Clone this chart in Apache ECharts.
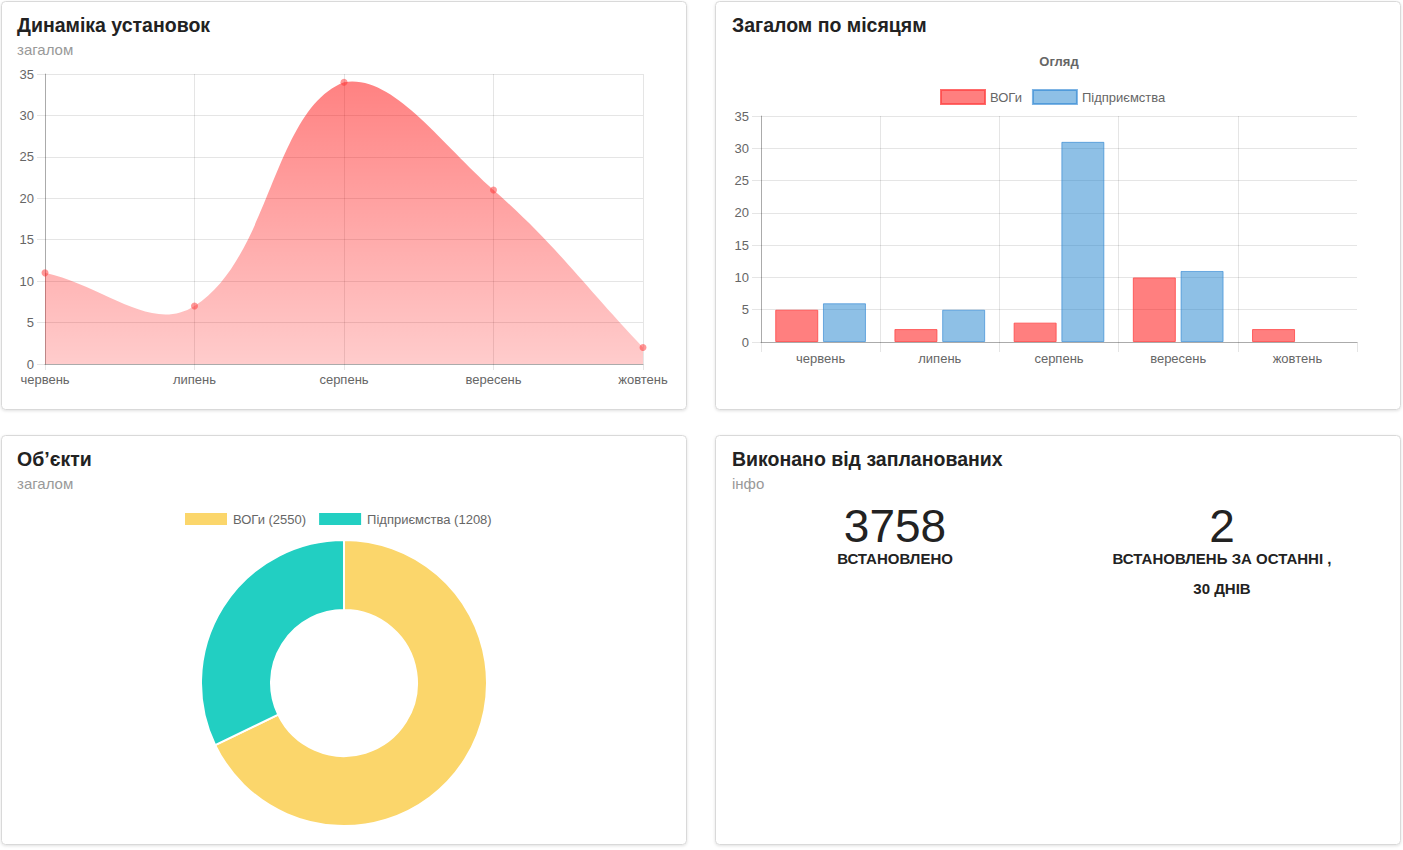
<!DOCTYPE html>
<html>
<head>
<meta charset="utf-8">
<script src="https://cdn.jsdelivr.net/npm/echarts@6/dist/echarts.min.js"></script>
<style>
html,body{margin:0;padding:0;background:#fff;}
#c{width:1403px;height:850px;}
</style>
</head>
<body>
<div id="c"></div>
<script>
// ---- data ----
const months = ['червень', 'липень', 'серпень', 'вересень', 'жовтень'];
const installs = [11, 7, 34, 21, 2];
const vogValues = [5, 2, 3, 10, 2];
const enterpriseValues = [6, 5, 31, 11, 0];
const seriesNames = ['ВОГи', 'Підприємства'];
const objectNames = ['ВОГи (2550)', 'Підприємства (1208)'];
const objectValues = [2550, 1208];
const totalInstalled = '3758';
const recentInstalled = '2';
const yTicks = {min: 0, max: 35, interval: 5};

const FONT = '"Liberation Sans", Arial, Helvetica, sans-serif';
const chart = echarts.init(document.getElementById('c'), null, {renderer: 'svg'});

function panel(x, y, w, h) {
  return {type: 'rect', shape: {x: x, y: y, width: w, height: h, r: 4}, z: -10,
    style: {fill: '#fff', stroke: '#d9d9d9', lineWidth: 1, shadowBlur: 3, shadowColor: 'rgba(0,0,0,0.12)', shadowOffsetY: 1}};
}
function txt(x, y, s, size, weight, color, align) {
  return {type: 'text', x: x, y: y, z: 10, style: {text: s, fontFamily: FONT, fontSize: size, fontWeight: weight,
    fill: color, textAlign: align || 'left', textVerticalAlign: 'middle'}};
}

const gridLine = {show: true, lineStyle: {color: 'rgba(0,0,0,0.1)', width: 1}};
const axisLineStyle = {show: true, lineStyle: {color: 'rgba(0,0,0,0.25)', width: 1}};
const lbl = {color: '#666', fontSize: 13, fontFamily: FONT};

// Cardinal spline (tension 0.4) through the data points, control points capped to the plot area
function renderArea(params, api) {
  if (params.dataIndex !== 0) return null;
  const pts = installs.map((v, i) => api.coord([i, v]));
  const top = api.coord([0, yTicks.max])[1];
  const bottom = api.coord([0, yTicks.min])[1];
  const left = pts[0][0], right = pts[pts.length - 1][0];
  const t = 0.4;
  const cap = (p) => [Math.min(Math.max(p[0], left), right), Math.min(Math.max(p[1], top), bottom)];
  const cps = pts.map((cur, i) => {
    const prev = pts[i - 1] || cur, next = pts[i + 1] || cur;
    const d01 = Math.hypot(cur[0] - prev[0], cur[1] - prev[1]);
    const d12 = Math.hypot(next[0] - cur[0], next[1] - cur[1]);
    let s01 = d01 / (d01 + d12), s12 = d12 / (d01 + d12);
    if (isNaN(s01)) s01 = 0; if (isNaN(s12)) s12 = 0;
    const fa = t * s01, fb = t * s12;
    return {
      prev: cap([cur[0] - fa * (next[0] - prev[0]), cur[1] - fa * (next[1] - prev[1])]),
      next: cap([cur[0] + fb * (next[0] - prev[0]), cur[1] + fb * (next[1] - prev[1])])
    };
  });
  let d = 'M' + pts[0][0] + ' ' + pts[0][1];
  for (let i = 1; i < pts.length; i++) {
    const a = cps[i - 1].next, b = cps[i].prev;
    d += ' C' + a[0] + ' ' + a[1] + ' ' + b[0] + ' ' + b[1] + ' ' + pts[i][0] + ' ' + pts[i][1];
  }
  d += ' L' + right + ' ' + bottom + ' L' + left + ' ' + bottom + ' Z';
  return {
    type: 'path', shape: {pathData: d},
    style: {fill: new echarts.graphic.LinearGradient(0, top, 0, bottom, [
      {offset: 0, color: 'rgba(255,0,0,0.5)'}, {offset: 1, color: 'rgba(255,0,0,0.2)'}], true), stroke: null}
  };
}

const option = {
  animation: false,
  graphic: [
    panel(1.5, 1.5, 685, 408),
    panel(715.5, 1.5, 685, 408),
    panel(1.5, 435.5, 685, 409),
    panel(715.5, 435.5, 685, 409),
    txt(17, 25, 'Динаміка установок', 19.5, 'bold', '#222'),
    txt(17, 49, 'загалом', 15, 'normal', '#999'),
    txt(732, 25, 'Загалом по місяцям', 19.5, 'bold', '#222'),
    txt(1059, 61, 'Огляд', 13, 'bold', '#666', 'center'),
    txt(17, 459, 'Об’єкти', 19.5, 'bold', '#222'),
    txt(17, 483, 'загалом', 15, 'normal', '#999'),
    txt(732, 459, 'Виконано від запланованих', 19.5, 'bold', '#222'),
    txt(732, 483, 'інфо', 15, 'normal', '#999'),
    txt(895, 526, totalInstalled, 46, 'normal', '#222', 'center'),
    txt(895, 558, 'ВСТАНОВЛЕНО', 15, 'bold', '#222', 'center'),
    txt(1222, 526, recentInstalled, 46, 'normal', '#222', 'center'),
    txt(1222, 558, 'ВСТАНОВЛЕНЬ ЗА ОСТАННІ ,', 15, 'bold', '#222', 'center'),
    txt(1222, 588, '30 ДНІВ', 15, 'bold', '#222', 'center')
  ],
  legend: [
    {left: 940, top: 89, padding: 0, itemWidth: 44, itemHeight: 14, itemGap: 10, icon: 'rect',
     data: seriesNames, textStyle: {color: '#666', fontSize: 13, fontFamily: FONT}},
    {left: 183, top: 511, padding: 0, itemWidth: 44, itemHeight: 14, itemGap: 11, icon: 'rect',
     data: objectNames, textStyle: {color: '#666', fontSize: 13, fontFamily: FONT}}
  ],
  grid: [
    {left: 45, top: 74, width: 598, height: 290},
    {left: 761, top: 116, width: 596, height: 226}
  ],
  xAxis: [
    {type: 'category', gridIndex: 0, data: months, boundaryGap: false,
     axisLine: axisLineStyle, axisTick: {show: true, length: 6, lineStyle: {color: 'rgba(0,0,0,0.1)'}},
     axisLabel: Object.assign({margin: 9}, lbl), splitLine: gridLine},
    {type: 'category', gridIndex: 1, data: months, boundaryGap: true,
     axisLine: axisLineStyle, axisTick: {show: true, length: 10, lineStyle: {color: 'rgba(0,0,0,0.1)'}},
     axisLabel: Object.assign({margin: 10}, lbl),
     splitLine: Object.assign({showMaxLine: false}, gridLine)}
  ],
  yAxis: [
    {type: 'value', gridIndex: 0, min: yTicks.min, max: yTicks.max, interval: yTicks.interval,
     axisLine: axisLineStyle, axisTick: {show: true, length: 8, lineStyle: {color: 'rgba(0,0,0,0.1)'}},
     axisLabel: Object.assign({margin: 11}, lbl), splitLine: gridLine},
    {type: 'value', gridIndex: 1, min: yTicks.min, max: yTicks.max, interval: yTicks.interval,
     axisLine: axisLineStyle, axisTick: {show: true, length: 9, lineStyle: {color: 'rgba(0,0,0,0.1)'}},
     axisLabel: Object.assign({margin: 12}, lbl), splitLine: gridLine}
  ],
  series: [
    {type: 'custom', name: 'Установки (площа)', xAxisIndex: 0, yAxisIndex: 0, z: 1,
     data: installs.map((v, i) => [i, v]), renderItem: renderArea, silent: true},
    {type: 'line', name: 'Установки', xAxisIndex: 0, yAxisIndex: 0, data: installs, z: 3,
     symbol: 'circle', symbolSize: 7, itemStyle: {color: 'rgba(255,50,50,0.5)'},
     lineStyle: {width: 0, opacity: 0}},
    {type: 'bar', name: seriesNames[0], xAxisIndex: 1, yAxisIndex: 1,
     data: vogValues.map(v => v === 0 ? {value: v, itemStyle: {opacity: 0}} : v),
     barWidth: 43, barGap: '11%',
     itemStyle: {color: 'rgba(255,0,0,0.5)', borderColor: 'rgba(255,70,70,0.8)', borderWidth: 1}},
    {type: 'bar', name: seriesNames[1], xAxisIndex: 1, yAxisIndex: 1,
     data: enterpriseValues.map(v => v === 0 ? {value: v, itemStyle: {opacity: 0}} : v),
     barWidth: 43, barGap: '11%',
     itemStyle: {color: 'rgba(30,130,205,0.5)', borderColor: 'rgba(40,130,210,0.6)', borderWidth: 1}},
    {type: 'pie', name: 'Об’єкти', center: [344, 683], radius: [73, 143], startAngle: 90, clockwise: true,
     label: {show: false}, labelLine: {show: false},
     itemStyle: {borderColor: '#fff', borderWidth: 2},
     data: objectNames.map((n, i) => ({name: n, value: objectValues[i],
       itemStyle: {color: i === 0 ? '#fbd66b' : '#22cfc2'}}))}
  ]
};
chart.setOption(option);
</script>
</body>
</html>
